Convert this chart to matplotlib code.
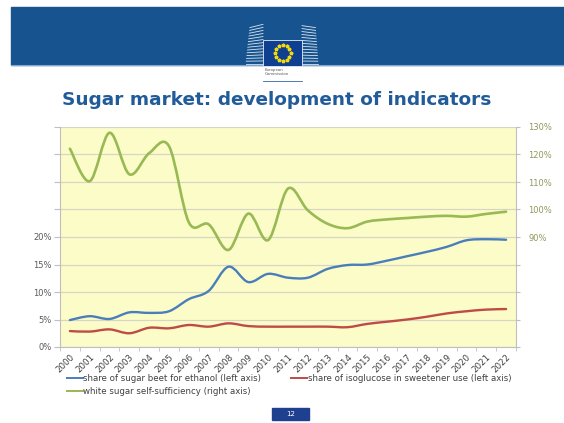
#!/usr/bin/env python3
"""Sugar market indicators slide, redrawn with matplotlib -> out.png"""
import numpy as np
import matplotlib
matplotlib.use("Agg")
import matplotlib.pyplot as plt
import matplotlib.patches as mpatches
from matplotlib.lines import Line2D
from matplotlib.path import Path as MplPath
from matplotlib.ticker import FixedLocator, FuncFormatter

W, H = 564, 423

years = [str(y) for y in range(2000, 2023)]
# shares, in % (left axis)
beet_ethanol = [4.9, 5.6, 5.1, 6.3, 6.2, 6.5, 8.7, 10.2, 14.6, 11.8, 13.3, 12.6,
                12.6, 14.2, 14.9, 15.0, 15.7, 16.5, 17.3, 18.2, 19.4, 19.6, 19.5]
isoglucose = [2.9, 2.8, 3.2, 2.5, 3.5, 3.4, 4.0, 3.7, 4.3, 3.8, 3.7, 3.7,
              3.7, 3.7, 3.6, 4.2, 4.6, 5.0, 5.5, 6.1, 6.5, 6.8, 6.9]
# self-sufficiency, in % (right axis)
self_suff = [122.1, 110.3, 127.9, 112.8, 120.5, 123.0, 95.3, 94.6, 85.3, 98.5, 88.9, 107.6,
             99.7, 94.8, 93.2, 95.6, 96.4, 96.9, 97.4, 97.7, 97.4, 98.4, 99.2]

left_ticks = [0, 5, 10, 15, 20, 25, 30, 35, 40]
left_labelled = [0, 5, 10, 15, 20]
right_ticks = [50, 60, 70, 80, 90, 100, 110, 120, 130]
right_labelled = [90, 100, 110, 120, 130]

BLUE = "#4A7EBB"
RED = "#BE4B48"
GREEN = "#98B954"
BAND = "#16538F"
TITLE = "#215C98"
PLOT_BG = "#FCFCC8"
GRID = "#D6D6C4"


def fx(x):
    return x / W


def fy(y):
    return 1 - y / H


def smooth_path(xs, ys):
    """Catmull-Rom style bezier through the points (Excel 'smoothed line')."""
    pts = np.column_stack([xs, ys]).astype(float)
    verts = [tuple(pts[0])]
    codes = [MplPath.MOVETO]
    n = len(pts)
    for i in range(n - 1):
        p0 = pts[max(i - 1, 0)]
        p1 = pts[i]
        p2 = pts[i + 1]
        p3 = pts[min(i + 2, n - 1)]
        c1 = p1 + (p2 - p0) / 6.0
        c2 = p2 - (p3 - p1) / 6.0
        verts += [tuple(c1), tuple(c2), tuple(p2)]
        codes += [MplPath.CURVE4] * 3
    return MplPath(verts, codes)


fig = plt.figure(figsize=(W / 100, H / 100), dpi=100, facecolor="white")

# ---- header band with logo ----
fig.patches.append(mpatches.Rectangle((fx(11), fy(65)), fx(553), 58 / H,
                                      transform=fig.transFigure, color=BAND, zorder=0))
fig.lines.append(Line2D([fx(11), 1], [fy(65.5), fy(65.5)], transform=fig.transFigure,
                        color="#7FA6CC", lw=0.8))
# building stripes
for k in range(14):
    y = 64 - k * 2.8
    fig.lines.append(Line2D([fx(246 + k * 0.3), fx(263)], [fy(y), fy(y - k * 0.25)],
                            transform=fig.transFigure, color="white", lw=0.6, alpha=0.85))
    fig.lines.append(Line2D([fx(302), fx(318 - k * 0.2)], [fy(y - k * 0.15), fy(y)],
                            transform=fig.transFigure, color="white", lw=0.6, alpha=0.85))
fig.patches.append(mpatches.Rectangle((fx(263), fy(66)), 39 / W, 26 / H,
                                      transform=fig.transFigure, facecolor="#0F3F91",
                                      edgecolor="#E8EEF6", lw=0.6, zorder=3))
ang = np.linspace(0, 2 * np.pi, 12, endpoint=False)
fig.lines.append(Line2D(fx(282.5 + 8 * np.cos(ang)), fy(53 + 8 * np.sin(ang)),
                        transform=fig.transFigure, ls="none", marker="*", ms=2.6,
                        color="#F5D90A", zorder=4))
fig.text(fx(265), fy(72), "European\nCommission", fontsize=2.8, color="#555555",
         va="center", ha="left", linespacing=1.3)
fig.lines.append(Line2D([fx(263), fx(302)], [fy(81), fy(81)], transform=fig.transFigure,
                        color="#3366AA", lw=0.6))

fig.text(fx(277), fy(105), "Sugar market: development of indicators", fontsize=13.3,
         fontweight="bold", color=TITLE, ha="center", va="baseline")

# ---- chart ----
ax = fig.add_axes([fx(60), fy(347), 456 / W, 220 / H])
ax.set_facecolor(PLOT_BG)
x = np.arange(len(years))
ax.set_xlim(-0.5, len(years) - 0.5)
ax.set_ylim(0, 40)

ax2 = ax.twinx()
ax2.set_ylim(50, 130)

for a in (ax, ax2):
    for s in a.spines.values():
        s.set_visible(False)
ax.spines["left"].set_visible(True)
ax.spines["bottom"].set_visible(True)
ax2.spines["right"].set_visible(True)
for s in (ax.spines["left"], ax.spines["bottom"], ax2.spines["right"]):
    s.set_color("#BFBFBF")
    s.set_linewidth(0.8)

ax.yaxis.set_major_locator(FixedLocator(left_ticks))
ax.yaxis.set_major_formatter(FuncFormatter(
    lambda v, p: f"{v:.0f}%" if round(v) in left_labelled else ""))
ax.tick_params(axis="y", length=4, color="#BFBFBF", labelsize=6, labelcolor="#595959", pad=2)
ax.grid(axis="y", color=GRID, lw=0.9)
ax.set_axisbelow(True)

ax2.yaxis.set_major_locator(FixedLocator(right_ticks))
ax2.yaxis.set_major_formatter(FuncFormatter(
    lambda v, p: f"{v:.0f}%" if round(v) in right_labelled else ""))
ax2.tick_params(axis="y", length=3, color="#BFBFBF", labelsize=6, labelcolor="#8C9A5B", pad=6)

ax.set_xticks(x)
ax.set_xticklabels(years, rotation=45, ha="right", rotation_mode="anchor",
                   fontsize=6.2, color="#404040")
ax.tick_params(axis="x", which="major", length=0, pad=4)
ax.set_xticks(np.arange(-0.5, len(years)), minor=True)
ax.tick_params(axis="x", which="minor", length=3, color="#BFBFBF")

ax.add_patch(mpatches.PathPatch(smooth_path(x, beet_ethanol), fill=False,
                                edgecolor=BLUE, lw=1.7, capstyle="round", zorder=3))
ax.add_patch(mpatches.PathPatch(smooth_path(x, isoglucose), fill=False,
                                edgecolor=RED, lw=1.7, capstyle="round", zorder=3))
ax2.add_patch(mpatches.PathPatch(smooth_path(x, self_suff), fill=False,
                                 edgecolor=GREEN, lw=1.9, capstyle="round", zorder=3))

handles = [Line2D([], [], color=BLUE, lw=1.4),
           Line2D([], [], color=GREEN, lw=1.4),
           Line2D([], [], color=RED, lw=1.4)]
labels = ["share of sugar beet for ethanol (left axis)",
          "white sugar self-sufficiency (right axis)",
          "share of isoglucose in sweetener use (left axis)"]
fig.legend(handles, labels, ncol=2, loc="upper left",
           bbox_to_anchor=(fx(67), fy(374)), frameon=False, fontsize=6.2,
           labelcolor="#404040", handlelength=1.8, handletextpad=0.1,
           columnspacing=3.5, labelspacing=0.45, borderaxespad=0, borderpad=0)

# ---- page number ----
fig.patches.append(mpatches.Rectangle((fx(272), fy(419.5)), 37 / W, 12 / H,
                                      transform=fig.transFigure, color="#1F3F8F"))
fig.text(fx(290.5), fy(413.5), "12", fontsize=5, color="white", ha="center", va="center")

fig.savefig("out.png", dpi=100, facecolor="white")
